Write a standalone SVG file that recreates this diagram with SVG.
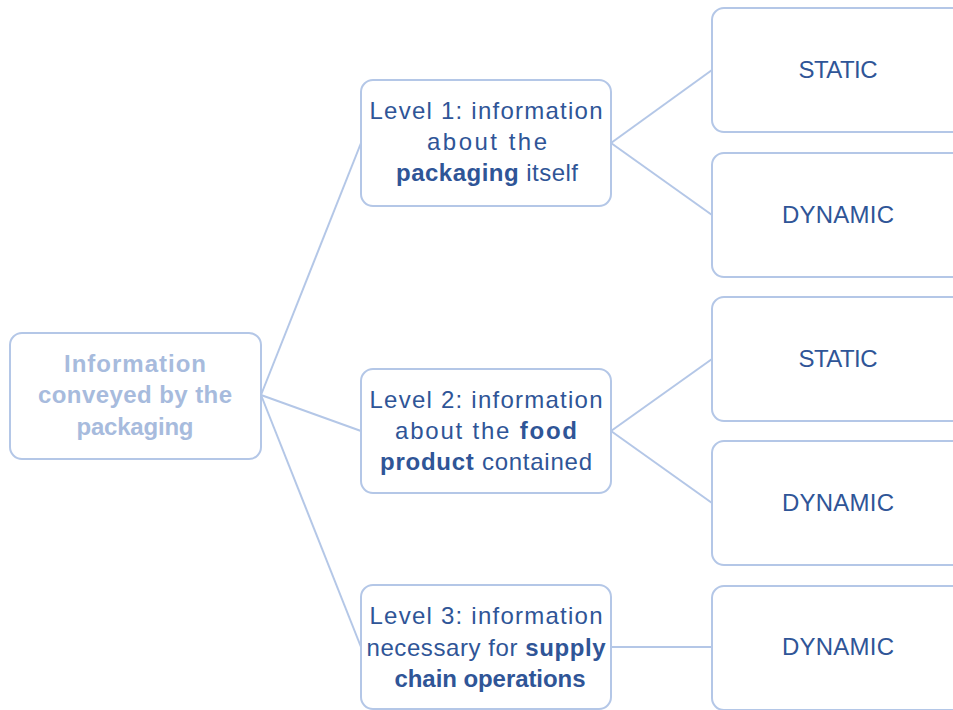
<svg xmlns="http://www.w3.org/2000/svg" width="953" height="710" viewBox="0 0 953 710">
  <style>
    .box { fill: #ffffff; stroke: #b4c7e7; stroke-width: 2; }
    .link { fill: none; stroke: #b4c7e7; stroke-width: 2; }
    .t { font-family: "Liberation Sans", Arial, sans-serif; font-size: 24px; fill: #2f5597; text-anchor: middle; }
    .root { fill: #a7bbdd; font-weight: bold; }
    .b { font-weight: bold; }
  </style>
  <rect width="953" height="710" fill="#ffffff"/>

  <!-- connectors -->
  <g id="connectors">
    <line class="link" x1="261" y1="395" x2="361" y2="143"/>
    <line class="link" x1="261" y1="395" x2="361" y2="431"/>
    <line class="link" x1="261" y1="395" x2="361" y2="647"/>
    <line class="link" x1="611" y1="143" x2="712" y2="70"/>
    <line class="link" x1="611" y1="143" x2="712" y2="215"/>
    <line class="link" x1="611" y1="431" x2="712" y2="359"/>
    <line class="link" x1="611" y1="431" x2="712" y2="503"/>
    <line class="link" x1="611" y1="647" x2="712" y2="647"/>
  </g>

  <g id="root">
    <rect class="box" x="10" y="333" width="251" height="126" rx="12"/>
    <text class="t root" x="135" y="372" textLength="142" lengthAdjust="spacing">Information</text>
    <text class="t root" x="135" y="403" textLength="194" lengthAdjust="spacing">conveyed by the</text>
    <text class="t root" x="135" y="435" textLength="117" lengthAdjust="spacing">packaging</text>
  </g>

  <g id="level1">
    <rect class="box" x="361" y="80" width="250" height="126" rx="12"/>
    <text class="t" x="486" y="119" textLength="233" lengthAdjust="spacing">Level 1: information</text>
    <text class="t" x="487" y="150" textLength="120" lengthAdjust="spacing">about  the</text>
    <text class="t" x="487" y="181" textLength="182" lengthAdjust="spacing"><tspan class="b">packaging</tspan> itself</text>
  </g>

  <g id="level2">
    <rect class="box" x="361" y="369" width="250" height="124" rx="12"/>
    <text class="t" x="486" y="408" textLength="233" lengthAdjust="spacing">Level 2: information</text>
    <text class="t" x="486" y="439" textLength="182" lengthAdjust="spacing">about  the <tspan class="b">food</tspan></text>
    <text class="t" x="486" y="470" textLength="212" lengthAdjust="spacing"><tspan class="b">product</tspan> contained</text>
  </g>

  <g id="level3">
    <rect class="box" x="361" y="585" width="250" height="124" rx="12"/>
    <text class="t" x="486" y="624" textLength="233" lengthAdjust="spacing">Level 3: information</text>
    <text class="t" x="486" y="656" textLength="239" lengthAdjust="spacing">necessary for <tspan class="b">supply</tspan></text>
    <text class="t b" x="490" y="687" textLength="191" lengthAdjust="spacing">chain operations</text>
  </g>

  <g id="l1-static">
    <rect class="box" x="712" y="8" width="260" height="124" rx="12"/>
    <text class="t" x="838" y="78" textLength="79" lengthAdjust="spacing">STATIC</text>
  </g>
  <g id="l1-dynamic">
    <rect class="box" x="712" y="153" width="260" height="124" rx="12"/>
    <text class="t" x="838" y="223" textLength="112" lengthAdjust="spacing">DYNAMIC</text>
  </g>
  <g id="l2-static">
    <rect class="box" x="712" y="297" width="260" height="124" rx="12"/>
    <text class="t" x="838" y="367" textLength="79" lengthAdjust="spacing">STATIC</text>
  </g>
  <g id="l2-dynamic">
    <rect class="box" x="712" y="441" width="260" height="124" rx="12"/>
    <text class="t" x="838" y="511" textLength="112" lengthAdjust="spacing">DYNAMIC</text>
  </g>
  <g id="l3-dynamic">
    <rect class="box" x="712" y="586" width="260" height="124" rx="12"/>
    <text class="t" x="838" y="655" textLength="112" lengthAdjust="spacing">DYNAMIC</text>
  </g>
</svg>
